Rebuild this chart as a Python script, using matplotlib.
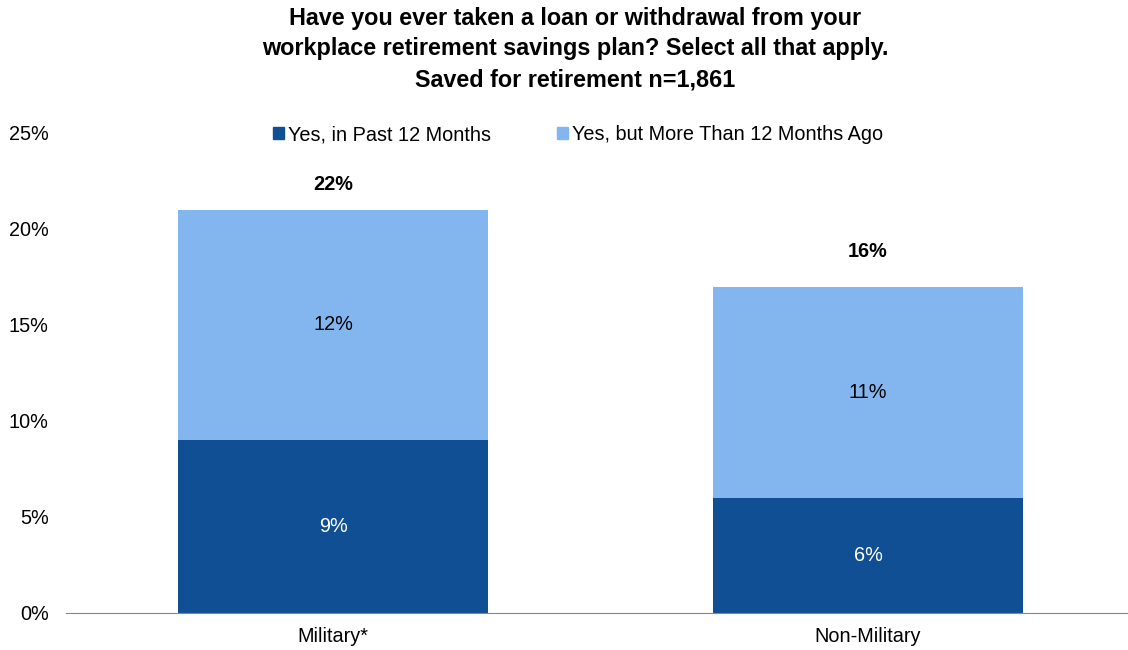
import matplotlib.pyplot as plt
from matplotlib.patches import Patch
from matplotlib.ticker import FuncFormatter

plt.rcParams['font.family'] = ['Liberation Sans', 'DejaVu Sans']

groups = ['Military*', 'Non-Military']
past_12 = [9, 6]
more_than_12 = [12, 11]
total_labels = ['22%', '16%']
series_names = ['Yes, in Past 12 Months', 'Yes, but More Than 12 Months Ago']

dark = '#114F95'
light = '#83B6EF'
fs = 14.3

fig = plt.figure(figsize=(11.28, 6.5), dpi=100)
ax = fig.add_axes([65.5 / 1128, 37 / 650, 1070 / 1128, 480 / 650])

x = list(range(len(groups)))
w = 0.581
ax.bar(x, past_12, width=w, color=dark)
ax.bar(x, more_than_12, width=w, bottom=past_12, color=light)

for i in x:
    ax.text(i, past_12[i] / 2, f'{past_12[i]}%', ha='center', va='center',
            color='white', fontsize=fs)
    ax.text(i, past_12[i] + more_than_12[i] / 2, f'{more_than_12[i]}%',
            ha='center', va='center', color='black', fontsize=fs)

# total labels sit a bit above each stack
label_offsets = [1.3, 1.85]
for i in x:
    top = past_12[i] + more_than_12[i]
    ax.text(i, top + label_offsets[i], total_labels[i], ha='center', va='center',
            fontweight='bold', fontsize=fs)

ax.set_xlim(-0.5, 1.5)
ax.set_ylim(0, 25)
ax.set_yticks([0, 5, 10, 15, 20, 25])
ax.yaxis.set_major_formatter(FuncFormatter(lambda v, p: f'{v:.0f}%'))
ax.set_xticks(x)
ax.set_xticklabels(groups)
ax.tick_params(axis='both', length=0, labelsize=fs)
ax.tick_params(axis='x', pad=10)
ax.tick_params(axis='y', pad=12)

for s in ['top', 'right', 'left']:
    ax.spines[s].set_visible(False)
ax.spines['bottom'].set_color('#888888')

handles = [Patch(color=dark), Patch(color=light)]
fig.legend(handles, series_names, loc='center', bbox_to_anchor=(578 / 1128, 1 - 135 / 650),
           ncol=2, frameon=False, fontsize=fs, handlelength=0.55, handleheight=0.55,
           handletextpad=0.2, columnspacing=3.3)

fig.text(575 / 1128, 1 - 49 / 650,
         'Have you ever taken a loan or withdrawal from your\n'
         'workplace retirement savings plan? Select all that apply.\n'
         'Saved for retirement n=1,861',
         ha='center', va='center', fontweight='bold', fontsize=16.8, linespacing=1.43)

fig.savefig('out.png', dpi=100)
